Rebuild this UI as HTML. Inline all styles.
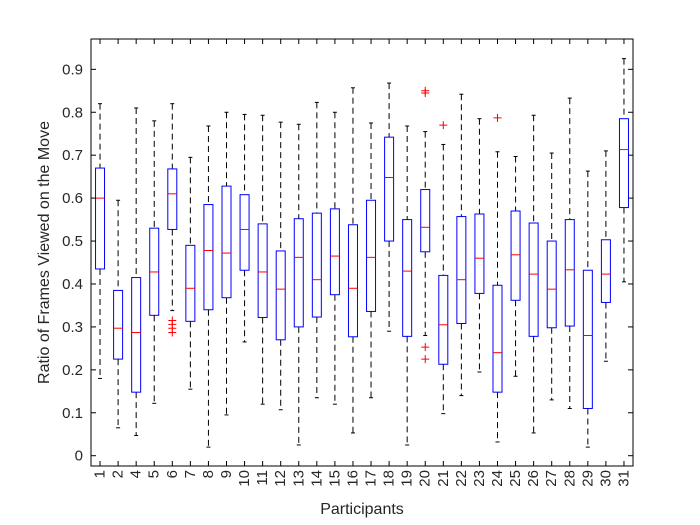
<!DOCTYPE html>
<html><head><meta charset="utf-8"><style>
body{margin:0;background:#fff;}
svg{display:block;font-family:"Liberation Sans",sans-serif;}
</style></head><body>
<svg id="chart" width="700" height="525" viewBox="0 0 700 525" xmlns="http://www.w3.org/2000/svg">
<rect x="0" y="0" width="700" height="525" fill="#fff"/>
<g id="plot"></g>
</svg>
<script>
const categories=["1","2","4","5","6","7","8","9","10","11","12","13","14","15","16","17","18","19","20","21","22","23","24","25","26","27","28","29","30","31"];
const whiskerHigh=[0.82,0.595,0.81,0.78,0.82,0.695,0.768,0.80,0.795,0.793,0.777,0.772,0.823,0.80,0.857,0.775,0.868,0.768,0.755,0.725,0.842,0.785,0.708,0.697,0.793,0.705,0.833,0.663,0.71,0.925];
const q3=[0.67,0.385,0.415,0.53,0.668,0.49,0.585,0.628,0.608,0.54,0.477,0.552,0.565,0.575,0.538,0.595,0.742,0.55,0.62,0.42,0.557,0.563,0.397,0.57,0.542,0.50,0.55,0.432,0.503,0.785];
const medians=[0.60,0.297,0.287,0.428,0.61,0.39,0.478,0.472,0.527,0.428,0.388,0.462,0.41,0.465,0.39,0.462,0.648,0.43,0.532,0.305,0.41,0.46,0.24,0.468,0.423,0.388,0.433,0.28,0.423,0.713];
const q1=[0.435,0.225,0.148,0.327,0.527,0.313,0.34,0.368,0.432,0.322,0.27,0.30,0.323,0.375,0.277,0.336,0.50,0.278,0.475,0.213,0.308,0.378,0.148,0.362,0.278,0.298,0.302,0.11,0.357,0.578];
const whiskerLow=[0.18,0.065,0.047,0.122,0.338,0.155,0.02,0.095,0.265,0.12,0.107,0.025,0.135,0.12,0.053,0.135,0.29,0.025,0.28,0.098,0.14,0.195,0.032,0.185,0.053,0.13,0.11,0.02,0.22,0.405];
const outlierIdx=[4,4,4,4,18,18,18,18,19,22];
const outlierVal=[0.315,0.306,0.297,0.287,0.85,0.845,0.253,0.225,0.77,0.787];
const yTicks=[0,0.1,0.2,0.3,0.4,0.5,0.6,0.7,0.8,0.9];

const L=91,R=633,T=39,B=466;
const n=categories.length, step=(R-L)/n;
const xs=i=>L+(i+0.5)*step;
const ys=v=>455.7-v*429.3;
const NS="http://www.w3.org/2000/svg";
const g=document.getElementById('plot');
function mk(tag,attrs,parent){const e=document.createElementNS(NS,tag);for(const k in attrs)e.setAttribute(k,attrs[k]);(parent||g).appendChild(e);return e;}

for(let i=0;i<n;i++){
  const grp=mk('g',{});
  
  
  const x=xs(i),hw=4.5;
  const w1=mk('line',{x1:x,x2:x,y1:ys(whiskerHigh[i]),y2:ys(q3[i]),stroke:'#000','stroke-dasharray':'6,4','stroke-width':1},grp);
  
  
  const w2=mk('line',{x1:x,x2:x,y1:ys(q1[i]),y2:ys(whiskerLow[i]),stroke:'#000','stroke-dasharray':'6,4','stroke-width':1},grp);
  
  
  const c1=mk('line',{x1:x-2,x2:x+2,y1:ys(whiskerHigh[i]),y2:ys(whiskerHigh[i]),stroke:'#000','stroke-width':1},grp);
  
  
  const c2=mk('line',{x1:x-2,x2:x+2,y1:ys(whiskerLow[i]),y2:ys(whiskerLow[i]),stroke:'#000','stroke-width':1},grp);
  
  
  const bx=mk('rect',{x:x-hw,y:ys(q3[i]),width:2*hw,height:ys(q1[i])-ys(q3[i]),fill:'none',stroke:'#0000ff','stroke-width':1},grp);
  
  
  const md=mk('line',{x1:x-hw,x2:x+hw,y1:ys(medians[i]),y2:ys(medians[i]),stroke:'#ff0000','stroke-width':1},grp);
  
  
}
for(let k=0;k<outlierIdx.length;k++){
  const x=xs(outlierIdx[k]),y=ys(outlierVal[k]);
  const p=mk('path',{d:`M${x-4},${y}H${x+4}M${x},${y-4}V${y+4}`,stroke:'#ff0000','stroke-width':1,fill:'none'});
  
  
}
const ax=mk('rect',{x:L,y:T,width:R-L,height:B-T,fill:'none',stroke:'#000','stroke-width':1});


for(let i=0;i<n;i++){
  const x=xs(i);
  mk('line',{x1:x,x2:x,y1:B,y2:B-5,stroke:'#000'});
  mk('line',{x1:x,x2:x,y1:T,y2:T+5,stroke:'#000'});
  const t=mk('text',{x:0,y:0,'font-size':15,'text-anchor':'end','dominant-baseline':'central',transform:`translate(${x},${B+4}) rotate(-90)`,fill:'#262626'});
  t.textContent=categories[i];
  
  
}
for(const v of yTicks){
  const y=ys(v);
  mk('line',{x1:L,x2:L+5,y1:y,y2:y,stroke:'#000'});
  mk('line',{x1:R,x2:R-5,y1:y,y2:y,stroke:'#000'});
  const t=mk('text',{x:L-8,y:y+5,'font-size':15,'text-anchor':'end',fill:'#262626'});
  t.textContent=v===0?'0':v.toFixed(1);
  
  
}
const xt=mk('text',{x:(L+R)/2,y:514,'font-size':16,'text-anchor':'middle',fill:'#262626'});
xt.textContent='Participants';


const yt=mk('text',{x:0,y:0,'font-size':16,'text-anchor':'middle',transform:`translate(49,${(T+B)/2}) rotate(-90)`,fill:'#262626'});
yt.textContent='Ratio of Frames Viewed on the Move';


</script>
</body></html>
